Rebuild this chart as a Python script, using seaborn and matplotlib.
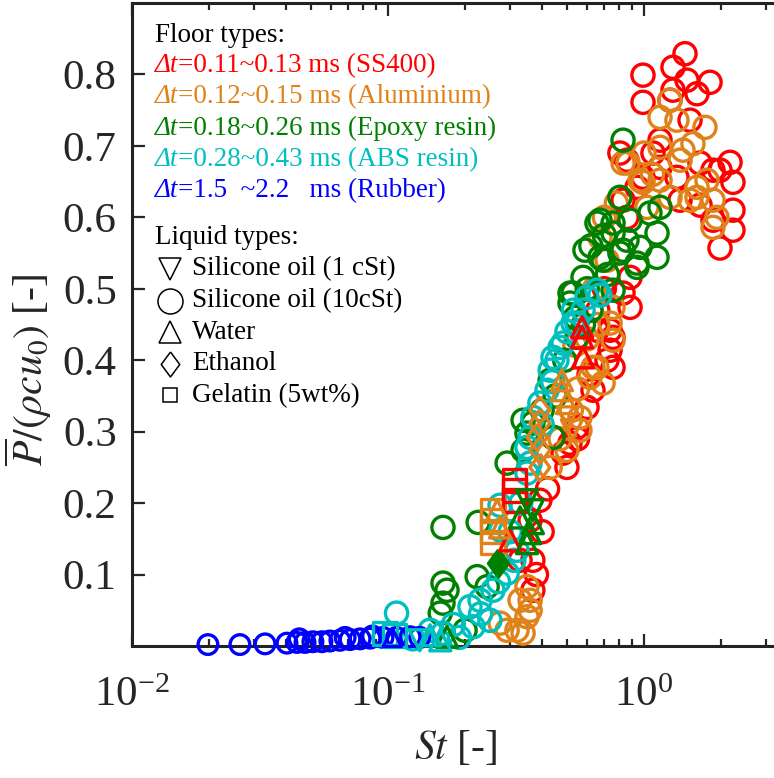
import numpy as np
import matplotlib
matplotlib.use("Agg")
import matplotlib.pyplot as plt
import seaborn as sns
from matplotlib.ticker import LogLocator, FixedLocator, NullFormatter, LogFormatterSciNotation

# ---------------- data (St, P/(rho c u0)) ----------------
# SS400 (red)
ss400_circ_st = [1.446, 0.991, 1.298, 1.472, 1.811, 1.611, 0.991, 1.298, 1.263, 0.858, 1.084, 1.155,
                 1.655, 2.168, 2.226, 2.226, 2.226, 1.981, 1.860, 1.981, 1.155, 0.991, 1.513, 1.383,
                 1.656, 1.345, 1.860, 0.939, 0.805, 0.828, 0.858, 0.882, 0.828, 0.882, 0.757, 0.757,
                 0.737, 0.737, 0.717, 0.632, 0.599, 0.547, 0.514, 0.483, 0.441, 0.368, 0.368, 0.328,
                 0.392, 0.359, 0.655, 0.66, 0.70, 0.61, 0.55, 0.50, 0.42, 0.40, 0.38]
ss400_circ_p = [0.829, 0.799, 0.810, 0.792, 0.789, 0.773, 0.761, 0.778, 0.764, 0.680, 0.690, 0.708,
                0.676, 0.677, 0.649, 0.610, 0.582, 0.557, 0.596, 0.666, 0.670, 0.656, 0.736, 0.624,
                0.617, 0.656, 0.666, 0.642, 0.690, 0.624, 0.600, 0.516, 0.494, 0.474, 0.432, 0.390,
                0.442, 0.414, 0.400, 0.358, 0.334, 0.306, 0.284, 0.270, 0.292, 0.120, 0.078, 0.120,
                0.204, 0.176, 0.442, 0.47, 0.50, 0.38, 0.29, 0.25, 0.22, 0.16, 0.10]
ss400_tri_st = [0.573, 0.573, 0.578, 0.300]
ss400_tri_p = [0.446, 0.432, 0.404, 0.148]
ss400_sq_st = [0.313, 0.313, 0.313]
ss400_sq_p = [0.232, 0.218, 0.204]

# Aluminium (orange)
alu_circ_st = [1.263, 1.155, 1.345, 1.730, 1.155, 1.420, 1.553, 1.383, 0.866, 0.991, 1.155, 1.263,
               1.611, 1.762, 1.860, 1.928, 1.860, 1.611, 1.513, 0.828, 0.965, 1.027, 0.673, 0.717,
               0.737, 0.757, 0.757, 0.632, 0.692, 0.655, 0.615, 0.562, 0.562, 0.500, 0.430, 0.349,
               0.319, 0.337, 0.349, 0.328, 0.359, 0.274, 0.292, 0.359, 0.537, 0.60, 0.66, 0.55,
               0.52, 0.47, 0.64, 0.70, 0.78, 1.00, 1.08]
alu_circ_p = [0.764, 0.740, 0.736, 0.726, 0.698, 0.694, 0.703, 0.680, 0.676, 0.649, 0.652, 0.628,
              0.642, 0.652, 0.624, 0.600, 0.586, 0.628, 0.624, 0.676, 0.652, 0.614, 0.572, 0.540,
              0.452, 0.474, 0.428, 0.390, 0.368, 0.390, 0.376, 0.320, 0.302, 0.274, 0.250, 0.041,
              0.022, 0.018, 0.083, 0.064, 0.050, 0.032, 0.022, 0.064, 0.421, 0.43, 0.45, 0.36,
              0.33, 0.29, 0.50, 0.60, 0.62, 0.69, 0.66]
alu_sq_st = [0.257, 0.257, 0.257, 0.257]
alu_sq_p = [0.190, 0.175, 0.160, 0.145]
alu_dia_st = [0.392, 0.392, 0.382, 0.392, 0.392]
alu_dia_p = [0.330, 0.312, 0.292, 0.274, 0.250]
alu_tri_st = [0.478, 0.478, 0.500, 0.267, 0.274]
alu_tri_p = [0.372, 0.358, 0.340, 0.190, 0.166]
alu_dtri_st = [0.504, 0.523]
alu_dtri_p = [0.320, 0.302]

# Epoxy resin (green)
epoxy_circ_st = [0.828, 0.805, 0.673, 0.757, 0.858, 0.965, 1.124, 1.124, 0.939, 0.673, 0.805, 1.055,
                 1.155, 0.882, 0.655, 0.757, 0.692, 0.939, 0.828, 0.578, 0.514, 0.757, 0.547, 0.430,
                 0.528, 0.514, 0.368, 0.337, 0.292, 0.441, 0.164, 0.225, 0.164, 0.170, 0.164, 0.160,
                 0.223, 0.244, 0.337, 0.349, 0.200, 0.588, 0.62, 0.70, 0.72, 0.60, 0.54, 0.49,
                 0.45, 0.40, 0.62, 0.58]
epoxy_circ_p = [0.708, 0.628, 0.596, 0.578, 0.568, 0.558, 0.578, 0.544, 0.530, 0.544, 0.550, 0.606,
                0.614, 0.596, 0.592, 0.592, 0.540, 0.536, 0.554, 0.516, 0.494, 0.498, 0.432, 0.372,
                0.494, 0.480, 0.312, 0.274, 0.256, 0.292, 0.166, 0.173, 0.088, 0.078, 0.060, 0.046,
                0.097, 0.083, 0.316, 0.298, 0.022, 0.554, 0.56, 0.575, 0.52, 0.50, 0.46, 0.40,
                0.35, 0.33, 0.47, 0.45]
epoxy_dia_st = [0.269]
epoxy_dia_p = [0.116]
epoxy_tri_st = [0.359, 0.368, 0.349, 0.328, 0.170]
epoxy_tri_p = [0.158, 0.172, 0.144, 0.180, 0.013]
epoxy_dtri_st = [0.349, 0.368]
epoxy_dtri_p = [0.204, 0.190]

# ABS resin (cyan)
abs_circ_st = [0.655, 0.599, 0.578, 0.547, 0.470, 0.441, 0.430, 0.528, 0.483, 0.457, 0.418, 0.392,
               0.368, 0.359, 0.359, 0.349, 0.349, 0.108, 0.146, 0.164, 0.209, 0.229, 0.257, 0.292,
               0.319, 0.250, 0.215, 0.673, 0.276, 0.274, 0.190, 0.125, 0.30, 0.33, 0.31, 0.27,
               0.40, 0.44, 0.50, 0.53, 0.18, 0.23]
abs_circ_p = [0.498, 0.488, 0.470, 0.452, 0.418, 0.404, 0.386, 0.452, 0.424, 0.400, 0.358, 0.340,
              0.320, 0.292, 0.256, 0.242, 0.278, 0.046, 0.022, 0.018, 0.055, 0.064, 0.078, 0.102,
              0.134, 0.036, 0.027, 0.491, 0.162, 0.197, 0.012, 0.010, 0.16, 0.20, 0.12, 0.09,
              0.31, 0.37, 0.44, 0.47, 0.03, 0.045]
abs_sq_st = [0.0973, 0.106]
abs_sq_p = [0.018, 0.015]
abs_tri_st = [0.160, 0.146]
abs_tri_p = [0.008, 0.015]
abs_dtri_st = [0.133]
abs_dtri_p = [0.008]

# Rubber (blue)
rubber_circ_st = [0.0198, 0.0264, 0.0331, 0.0403, 0.0441, 0.0474, 0.0509, 0.0552, 0.0593, 0.0649,
                  0.0711, 0.0778, 0.0851, 0.0956, 0.108, 0.122, 0.133, 0.045, 0.068, 0.087]
rubber_circ_p = [0.002, 0.002, 0.003, 0.004, 0.005, 0.005, 0.006, 0.006, 0.007, 0.008,
                 0.009, 0.010, 0.011, 0.012, 0.012, 0.013, 0.012, 0.010, 0.012, 0.014]
rubber_tri_st = [0.104]
rubber_tri_p = [0.012]

floor_prefix = "\u0394t"
floor_rest = ["=0.11~0.13 ms (SS400)",
              "=0.12~0.15 ms (Aluminium)",
              "=0.18~0.26 ms (Epoxy resin)",
              "=0.28~0.43 ms (ABS resin)",
              "=1.5  ~2.2   ms (Rubber)"]
liquid_labels = ["Silicone oil (1 cSt)", "Silicone oil (10cSt)", "Water", "Ethanol", "Gelatin (5wt%)"]

RED, ORANGE, GREEN, CYAN, BLUE = "#FF0000", "#E0821A", "#008000", "#00BFBF", "#0000FF"
floor_colors = [RED, ORANGE, GREEN, CYAN, BLUE]

# ---------------- style ----------------
sns.set_style("ticks")
plt.rcParams["font.family"] = ["Liberation Serif", "DejaVu Serif"]
plt.rcParams["mathtext.fontset"] = "stix"
plt.rcParams["axes.unicode_minus"] = False

W, H = 774, 778
fig = plt.figure(figsize=(W / 100, H / 100), dpi=100)
ax = fig.add_axes([132 / W, 1 - 646 / H, (780 - 132) / W, (646 - 3) / H])

DIAMOND = [(0, 1), (0.74, 0), (0, -1), (-0.74, 0), (0, 1)]

def draw(st, p, color, marker, s, lw=2.4, filled=False, z=3):
    sns.scatterplot(x=st, y=p, ax=ax, marker=marker, s=s, color=color,
                    facecolor=color if filled else "none", edgecolor=color,
                    linewidth=lw, zorder=z, legend=False, clip_on=False)

S_CIRC = 255
draw(ss400_circ_st, ss400_circ_p, RED, "o", S_CIRC, z=3)
draw(alu_circ_st, alu_circ_p, ORANGE, "o", S_CIRC, z=3.1)
draw(epoxy_circ_st, epoxy_circ_p, GREEN, "o", S_CIRC, z=3.2)
draw(abs_circ_st, abs_circ_p, CYAN, "o", S_CIRC, z=3.3)
draw(rubber_circ_st, rubber_circ_p, BLUE, "o", 200, z=3.4)

draw(alu_sq_st, alu_sq_p, ORANGE, "s", 280, z=4)
draw(ss400_sq_st, ss400_sq_p, RED, "s", 280, z=4)
draw(abs_sq_st, abs_sq_p, CYAN, "s", 280, z=4)
draw(alu_dia_st, alu_dia_p, ORANGE, DIAMOND, 380, z=4)
draw(epoxy_dia_st, epoxy_dia_p, GREEN, DIAMOND, 380, filled=True, z=4)
draw(ss400_tri_st, ss400_tri_p, RED, "^", 230, z=4)
draw(alu_tri_st, alu_tri_p, ORANGE, "^", 230, z=4)
draw(epoxy_tri_st, epoxy_tri_p, GREEN, "^", 230, z=4)
draw(abs_tri_st, abs_tri_p, CYAN, "^", 230, z=4)
draw(rubber_tri_st, rubber_tri_p, BLUE, "^", 170, z=4)
draw(alu_dtri_st, alu_dtri_p, ORANGE, "v", 230, z=4)
draw(epoxy_dtri_st, epoxy_dtri_p, GREEN, "v", 230, z=4)
draw(abs_dtri_st, abs_dtri_p, CYAN, "v", 230, z=4)

# ---------------- axes ----------------
ax.set_xscale("log")
ax.set_xlim(0.01, 10 ** (-2 + (780 - 132) / 256))
ax.set_ylim(0, 0.9)
ax.xaxis.set_major_locator(FixedLocator([0.01, 0.1, 1.0]))
ax.xaxis.set_major_formatter(LogFormatterSciNotation())
ax.xaxis.set_minor_locator(LogLocator(base=10, subs=np.arange(2, 10), numticks=20))
ax.xaxis.set_minor_formatter(NullFormatter())
ax.set_yticks([0.1, 0.2, 0.3, 0.4, 0.5, 0.6, 0.7, 0.8])
ax.set_yticklabels(["0.1", "0.2", "0.3", "0.4", "0.5", "0.6", "0.7", "0.8"])
ax.tick_params(which="both", direction="in", top=True, right=False, width=1.6, labelsize=31)
ax.tick_params(which="major", length=9)
ax.tick_params(which="minor", length=5)
ax.tick_params(axis="y", pad=11)
ax.tick_params(axis="x", pad=22)
for side in ["left", "bottom", "top"]:
    ax.spines[side].set_linewidth(2.2)
    ax.spines[side].set_color("#222222")
ax.spines["right"].set_visible(False)

ax.set_xlabel(r"$St$ [-]", fontsize=30, labelpad=10)
ax.set_ylabel(r"$\overline{P}/(\rho c u_0)$ [-]", fontsize=30)
ax.yaxis.set_label_coords(-0.121, 0.43)

# ---------------- legend (text + markers) ----------------
def fx(px):
    return px / W

def fy(py):
    return 1 - py / H

FS = 19.5
fig.text(fx(155), fy(35), "Floor types:", fontsize=FS, va="center", ha="left", color="black")
for i, (rest, col) in enumerate(zip(floor_rest, floor_colors)):
    ybase = fy(65 + i * 31.3 + 7)
    t1 = fig.text(fx(155), ybase, floor_prefix, fontsize=FS, style="italic",
                  va="baseline", ha="left", color=col)
    ax.annotate(rest, xy=(1.0, ybase), xycoords=(t1, "figure fraction"),
                fontsize=FS, va="baseline", ha="left", color=col, annotation_clip=False)
fig.text(fx(155), fy(237), "Liquid types:", fontsize=FS, va="center", ha="left", color="black")
leg_markers = [("v", 16), ("o", 18), ("^", 16), (DIAMOND, 18), ("s", 10)]
for i, (lab, (mk, ms)) in enumerate(zip(liquid_labels, leg_markers)):
    yy = 269 + i * 31.6
    ax.plot([fx(170)], [fy(yy)], marker=mk, markersize=ms, markerfacecolor="none",
            markeredgecolor="black", markeredgewidth=1.1, linestyle="none",
            transform=fig.transFigure, clip_on=False, zorder=10)
    fig.text(fx(192), fy(yy), lab, fontsize=FS, va="center", ha="left", color="black")

fig.savefig("out.png", dpi=100)
